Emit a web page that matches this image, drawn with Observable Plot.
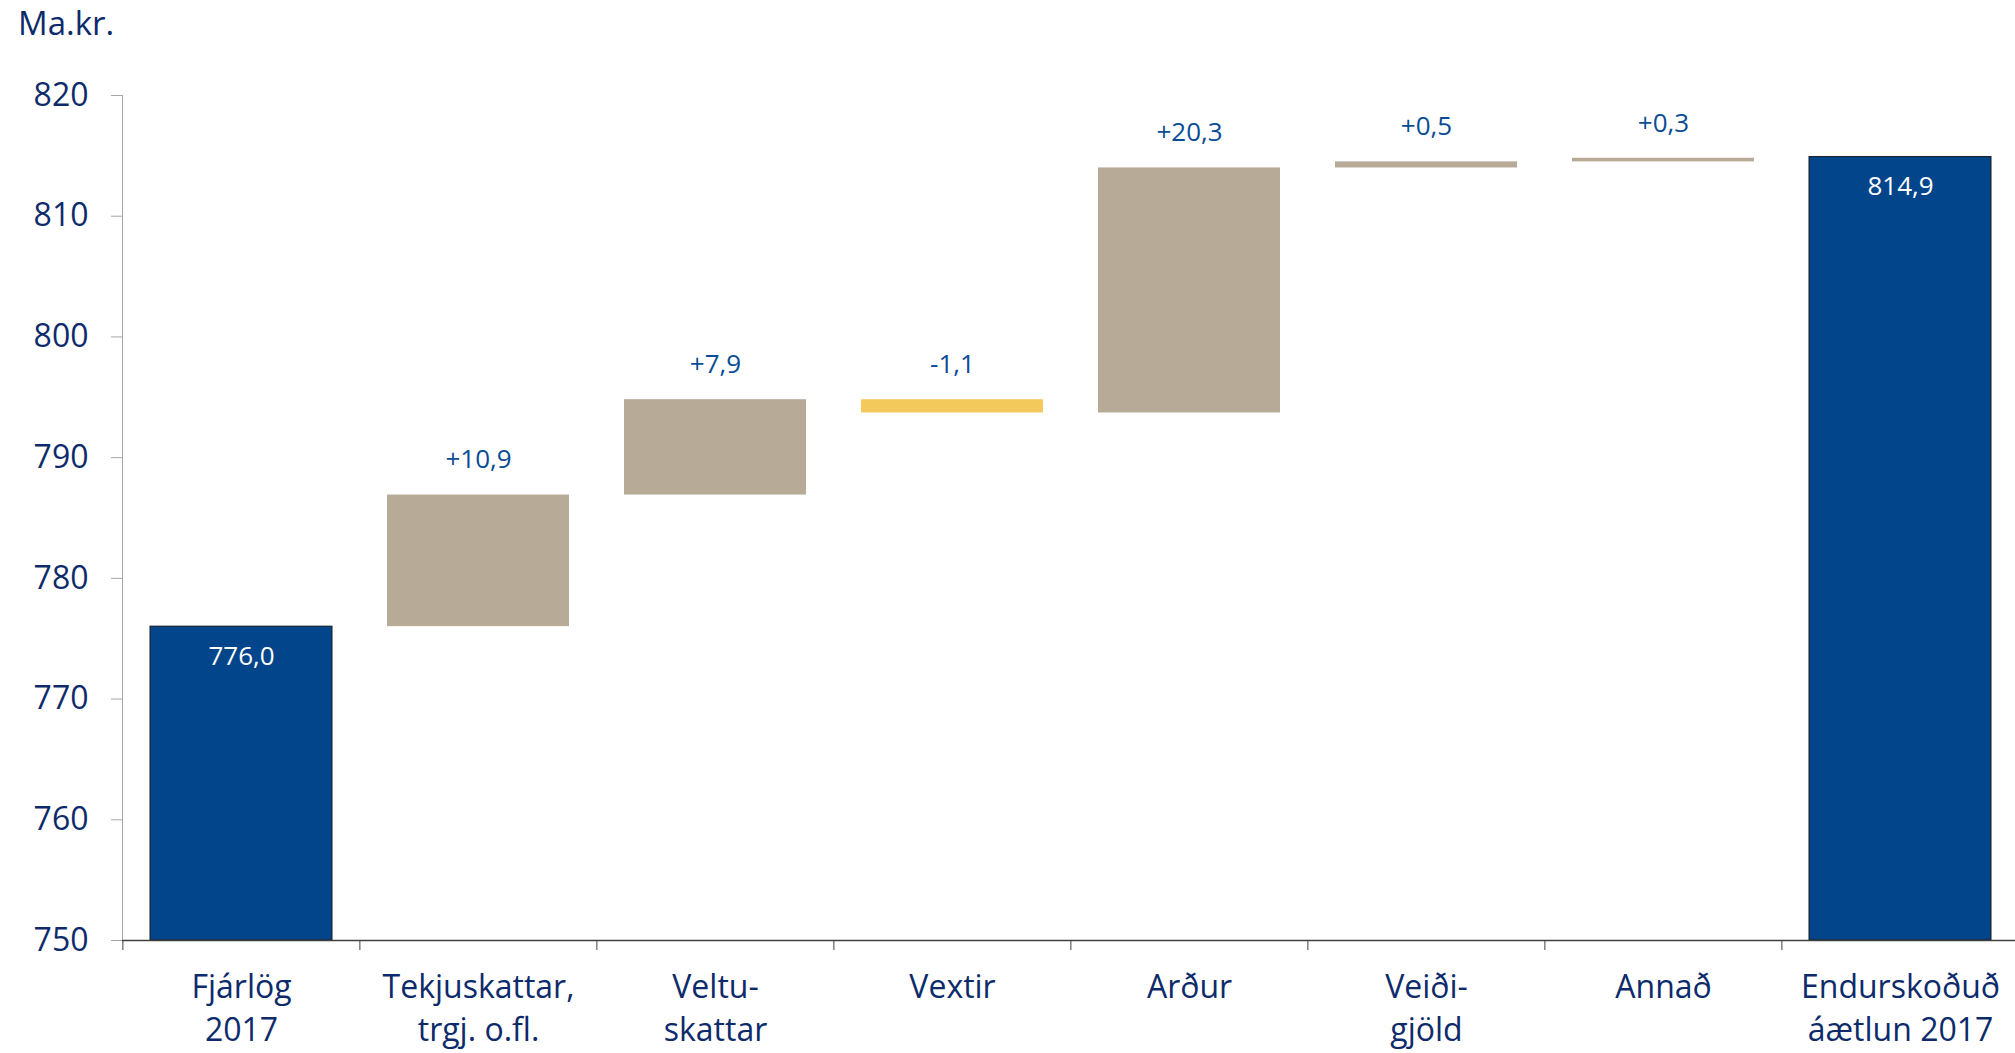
<!DOCTYPE html>
<html>
<head>
<meta charset="utf-8">
<script src="https://cdn.jsdelivr.net/npm/d3@7"></script>
<script src="https://cdn.jsdelivr.net/npm/@observablehq/plot@0.6"></script>
<style>
  html, body { margin: 0; padding: 0; background: #fff; }
  #wrap { position: relative; width: 2015px; height: 1053px; overflow: hidden; }
  #title { position: absolute; left: 18px; top: 0; font-family: "Open Sans", sans-serif; font-size: 33px; line-height: 46px; color: #0D2B6B; }
  #chart { position: absolute; left: 0; top: 0; }
</style>
</head>
<body>
<div id="wrap">
  <div id="chart"></div>
  <div id="title">Ma.kr.</div>
</div>
<script>
const categories = ["Fjárlög\n2017", "Tekjuskattar,\ntrgj. o.fl.", "Veltu-\nskattar", "Vextir", "Arður", "Veiði-\ngjöld", "Annað", "Endurskoðuð\náætlun 2017"];
const values = [776.0, 10.9, 7.9, -1.1, 20.3, 0.5, 0.3, 814.9];
const kinds = ["total", "change", "change", "change", "change", "change", "change", "total"];
const yTicks = [750, 760, 770, 780, 790, 800, 810, 820];
const yDomain = [750, 820];

const W = 2015, H = 1053, mL = 122, mR = -5, mT = 95, mB = 113;
const step = (W - mL - mR) / categories.length;

const fmt = v => v.toFixed(1).replace(".", ",");
let run = 0;
const rows = categories.map((c, i) => {
  const v = values[i];
  if (kinds[i] === "total") {
    run = v;
    return {cat: c, kind: "total", lo: yDomain[0], hi: v, top: v, label: fmt(v)};
  }
  const a = run, b = run + v;
  run = b;
  return {cat: c, kind: v < 0 ? "down" : "up", lo: Math.min(a, b), hi: Math.max(a, b), top: Math.max(a, b), label: (v > 0 ? "+" : "") + fmt(v)};
});
const fillOf = {total: "#03458A", up: "#B7AA96", down: "#F3C95C"};

const plot = Plot.plot({
  width: W, height: H,
  marginLeft: mL, marginRight: mR, marginTop: mT, marginBottom: mB,
  style: {fontFamily: "'Open Sans', sans-serif", background: "#fff", overflow: "visible"},
  x: {domain: categories, paddingInner: 0.23, paddingOuter: 0.115, axis: null},
  y: {domain: yDomain, axis: null},
  marks: [
    Plot.barY(rows, {x: "cat", y1: "lo", y2: "hi", fill: d => fillOf[d.kind],
      stroke: d => d.kind === "total" ? "#1a1a1a" : "none", strokeWidth: 1}),
    Plot.axisY({ticks: yTicks, tickSize: 11, tickPadding: 23, fontSize: 32, stroke: "#A6A6A6", fill: "#0D2B6B", tickFormat: d => d, label: null}),
    Plot.frame({anchor: "left", stroke: "#A6A6A6"}),
    Plot.ruleY([yDomain[0]], {stroke: "#404040", strokeWidth: 1.3}),
    Plot.axisX({ticks: categories, tickSize: 10, dx: -step / 2, stroke: "#404040", tickFormat: () => "", label: null}),
    Plot.text(categories, {x: d => d, frameAnchor: "bottom", lineAnchor: "top", dy: 27, lineHeight: 1.35, fontSize: 32, fill: "#0D2B6B", text: d => d}),
    Plot.text(rows.filter(d => d.kind !== "total"), {x: "cat", y: "top", dy: -35, fontSize: 26, fill: "#0A4C94", text: "label"}),
    Plot.text(rows.filter(d => d.kind === "total"), {x: "cat", y: "hi", dy: 30, fontSize: 26, fill: "#fff", text: "label"})
  ]
});
document.getElementById("chart").appendChild(plot);
</script>
</body>
</html>
